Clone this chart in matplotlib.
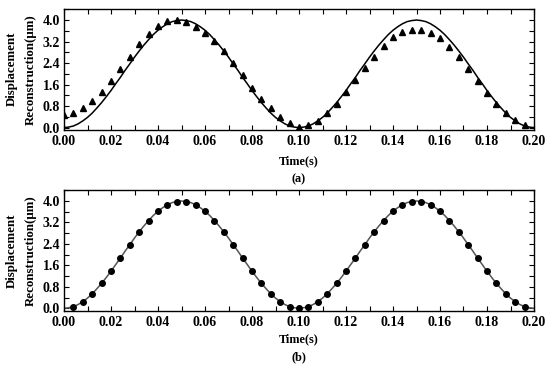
import numpy as np
import matplotlib.pyplot as plt
from matplotlib.ticker import MultipleLocator

plt.rcParams['font.family'] = ['Liberation Serif', 'DejaVu Serif']
plt.rcParams['font.weight'] = 'bold'

# reconstructed curve, sampled every 0.002 s
t_line = np.arange(101) * 0.002
y_line = [0.00, 0.02, 0.06, 0.14, 0.25, 0.38, 0.54, 0.73, 0.93, 1.15,
          1.38, 1.63, 1.87, 2.13, 2.37, 2.62, 2.85, 3.07, 3.27, 3.46,
          3.62, 3.75, 3.86, 3.94, 3.98, 4.00, 3.98, 3.94, 3.86, 3.75,
          3.62, 3.46, 3.27, 3.07, 2.85, 2.62, 2.37, 2.13, 1.87, 1.63,
          1.38, 1.15, 0.93, 0.73, 0.54, 0.38, 0.25, 0.14, 0.06, 0.02,
          0.00, 0.02, 0.06, 0.14, 0.25, 0.38, 0.54, 0.73, 0.93, 1.15,
          1.38, 1.63, 1.87, 2.13, 2.37, 2.62, 2.85, 3.07, 3.27, 3.46,
          3.62, 3.75, 3.86, 3.94, 3.98, 4.00, 3.98, 3.94, 3.86, 3.75,
          3.62, 3.46, 3.27, 3.07, 2.85, 2.62, 2.37, 2.13, 1.87, 1.63,
          1.38, 1.15, 0.93, 0.73, 0.54, 0.38, 0.25, 0.14, 0.06, 0.02,
          0.00]

# (a) triangles, every 0.004 s from 0.000 to 0.196
t_a = np.arange(50) * 0.004
y_a = [0.47, 0.56, 0.72, 1.00, 1.34, 1.75, 2.19, 2.64, 3.10, 3.47,
       3.79, 3.98, 4.01, 3.92, 3.75, 3.53, 3.22, 2.83, 2.42, 1.95,
       1.49, 1.08, 0.74, 0.41, 0.16, 0.04, 0.10, 0.26, 0.53, 0.88,
       1.31, 1.76, 2.20, 2.62, 3.04, 3.36, 3.55, 3.63, 3.63, 3.52,
       3.32, 3.00, 2.62, 2.18, 1.75, 1.30, 0.87, 0.53, 0.29, 0.10]

# (b) dots, every 0.004 s from 0.004 to 0.196
t_b = np.arange(1, 50) * 0.004
y_b = [0.06, 0.25, 0.54, 0.93, 1.38, 1.87, 2.37, 2.85, 3.27, 3.62,
       3.86, 3.98, 3.98, 3.86, 3.62, 3.27, 2.85, 2.37, 1.87, 1.38,
       0.93, 0.54, 0.25, 0.06, 0.00, 0.06, 0.25, 0.54, 0.93, 1.38,
       1.87, 2.37, 2.85, 3.27, 3.62, 3.86, 3.98, 3.98, 3.86, 3.62,
       3.27, 2.85, 2.37, 1.87, 1.38, 0.93, 0.54, 0.25, 0.06]

fig = plt.figure(figsize=(5.5, 3.69), dpi=100)
ax_a = fig.add_axes([64/550, 1 - 129.5/369, 470/550, 120.5/369])
ax_b = fig.add_axes([64/550, 1 - 310.7/369, 470/550, 120.7/369])

ax_a.plot(t_line, y_line, color='black', lw=1.1)
ax_a.plot(t_a, y_a, ls='none', marker='^', ms=4.2, color='black')
ax_b.plot(t_line, y_line, color='#555555', lw=1.1)
ax_b.plot(t_b, y_b, ls='none', marker='o', ms=4.0, color='black')

for ax, tag, ylo, lpad, lsp in [(ax_a, '(a)', -0.07, 5, 1.75),
                                (ax_b, '(b)', -0.09, 3, 1.6)]:
    ax.set_xlim(0, 0.2)
    ax.set_ylim(ylo, 4.41)
    ax.xaxis.set_major_locator(MultipleLocator(0.02))
    ax.xaxis.set_minor_locator(MultipleLocator(0.01))
    ax.yaxis.set_major_locator(MultipleLocator(0.8))
    ax.yaxis.set_minor_locator(MultipleLocator(0.4))
    ax.set_xticklabels(['%.2f' % v for v in ax.get_xticks()])
    ax.set_yticklabels(['%.1f' % v for v in ax.get_yticks()])
    ax.tick_params(which='both', direction='in', top=True, right=True,
                   length=3.5, width=0.8, labelsize=10)
    ax.tick_params(axis='x', pad=4)
    ax.tick_params(axis='y', pad=3)
    for lab in ax.get_xticklabels() + ax.get_yticklabels():
        lab.set_fontweight('bold')
    for s in ax.spines.values():
        s.set_linewidth(1.0)
    ax.set_xlabel('Time(s)\n' + tag, fontsize=8.8, fontweight='bold',
                  labelpad=lpad, linespacing=lsp)
    ax.set_ylabel('Displacement\nReconstruction(\u03bcm)', fontsize=9.3,
                  fontweight='bold', labelpad=4, linespacing=1.75)

plt.savefig('out.png', dpi=100)
